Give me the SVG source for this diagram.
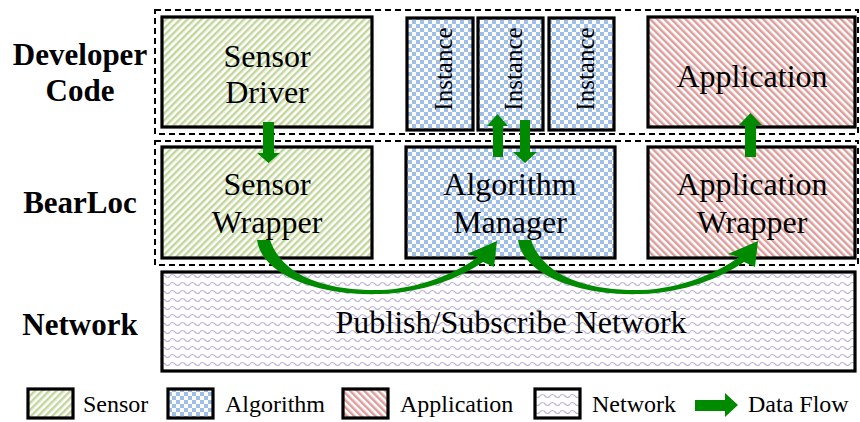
<svg xmlns="http://www.w3.org/2000/svg" xmlns:xlink="http://www.w3.org/1999/xlink" width="860" height="422" viewBox="0 0 860 422">
  <defs>
    <!-- fill patterns for the four component kinds -->
    <pattern id="sensorFill" width="5" height="5" patternUnits="userSpaceOnUse" patternTransform="rotate(45)">
      <rect width="5" height="5" fill="#ffffff"/>
      <rect x="0" y="0" width="2.4" height="5" fill="#c2d69a"/>
    </pattern>
    <pattern id="algoFill" width="8" height="8" patternUnits="userSpaceOnUse">
      <rect width="8" height="8" fill="#ffffff"/>
      <rect x="0" y="0" width="4" height="4" fill="#9fbfe8"/>
      <rect x="4" y="4" width="4" height="4" fill="#9fbfe8"/>
    </pattern>
    <pattern id="appFill" width="5" height="5" patternUnits="userSpaceOnUse" patternTransform="rotate(-45)">
      <rect width="5" height="5" fill="#ffffff"/>
      <rect x="0" y="0" width="2.5" height="5" fill="#dd9e9b"/>
    </pattern>
    <pattern id="netFill" width="10" height="8" patternUnits="userSpaceOnUse">
      <rect width="10" height="8" fill="#ffffff"/>
      <path d="M0,4 Q2.5,1 5,4 T10,4" fill="none" stroke="#bfb4d8" stroke-width="1.2"/>
    </pattern>
    <!-- curved data-flow arrow, reused twice -->
    <path id="curveArrow" d="M257,240 C262,276 320,296 380,294 C422,293 460,278 483,262 L494,267 L497,241 L467,254 L478,257 C458,272 420,289 380,290 C330,291 283,278 270,240 Z"/>
  </defs>
  <style>
    .layer { fill: none; stroke: #000; stroke-width: 2; stroke-dasharray: 6 4; }
    .box { stroke: #000; stroke-width: 3.2; }
    .sensor { fill: url(#sensorFill); }
    .algo { fill: url(#algoFill); }
    .app { fill: url(#appFill); }
    .net { fill: url(#netFill); }
    .lbl { font-family: "Liberation Serif", "Times New Roman", serif; font-size: 32px; fill: #000; text-anchor: middle; }
    .inst { font-family: "Liberation Serif", "Times New Roman", serif; font-size: 25px; fill: #000; text-anchor: middle; }
    .side { font-family: "Liberation Serif", "Times New Roman", serif; font-size: 31px; font-weight: bold; fill: #000; text-anchor: middle; }
    .leg { font-family: "Liberation Serif", "Times New Roman", serif; font-size: 24px; fill: #000; }
    .flow { fill: #008a00; }
  </style>

  <rect width="860" height="422" fill="#ffffff"/>

  <!-- layer labels -->
  <g id="layer-labels">
    <text class="side" x="80" y="65">Developer</text>
    <text class="side" x="80" y="101">Code</text>
    <text class="side" x="80" y="213">BearLoc</text>
    <text class="side" x="80" y="335">Network</text>
  </g>

  <!-- dashed layer frames -->
  <g id="layer-frames">
    <rect class="layer" x="155" y="10" width="703" height="124"/>
    <rect class="layer" x="155" y="141" width="703" height="124"/>
  </g>

  <g id="sensor-driver">
    <rect class="box sensor" x="162" y="17" width="210" height="110"/>
    <text class="lbl" x="267" y="67">Sensor</text>
    <text class="lbl" x="267" y="103">Driver</text>
  </g>

  <g id="instance-1">
    <rect class="box algo" x="407" y="18" width="66" height="112"/>
    <text class="inst" transform="translate(452,69) rotate(-90)">Instance</text>
  </g>
  <g id="instance-2">
    <rect class="box algo" x="478" y="18" width="65" height="112"/>
    <text class="inst" transform="translate(522,69) rotate(-90)">Instance</text>
  </g>
  <g id="instance-3">
    <rect class="box algo" x="549" y="18" width="65" height="112"/>
    <text class="inst" transform="translate(594,69) rotate(-90)">Instance</text>
  </g>

  <g id="application">
    <rect class="box app" x="648" y="17" width="207" height="110"/>
    <text class="lbl" x="752" y="87">Application</text>
  </g>

  <g id="sensor-wrapper">
    <rect class="box sensor" x="162" y="147" width="210" height="111"/>
    <text class="lbl" x="267" y="195">Sensor</text>
    <text class="lbl" x="267" y="233">Wrapper</text>
  </g>

  <g id="algorithm-manager">
    <rect class="box algo" x="406" y="147" width="209" height="111"/>
    <text class="lbl" x="510" y="195">Algorithm</text>
    <text class="lbl" x="510" y="233">Manager</text>
  </g>

  <g id="application-wrapper">
    <rect class="box app" x="648" y="147" width="207" height="111"/>
    <text class="lbl" x="752" y="195">Application</text>
    <text class="lbl" x="752" y="233">Wrapper</text>
  </g>

  <g id="pubsub-network">
    <rect class="box net" x="162" y="272" width="693" height="99"/>
    <text class="lbl" x="511" y="333">Publish/Subscribe Network</text>
  </g>

  <!-- data flow arrows -->
  <g id="connectors" class="flow">
    <!-- driver down to wrapper -->
    <path d="M263,122 H274 V153 H280 L268.5,163 L257,153 H263 Z"/>
    <!-- manager up to instance -->
    <path d="M493,157 H503 V126 H508 L497.5,114 L487,126 H493 Z"/>
    <!-- instance down to manager -->
    <path d="M520,120 H530 V152 H537 L525,163 L513,152 H520 Z"/>
    <!-- wrapper up to application -->
    <path d="M745,157 H756 V125 H762 L750.5,113 L739,125 H745 Z"/>
    <!-- sensor wrapper to manager over the network -->
    <use xlink:href="#curveArrow"/>
    <!-- manager to application wrapper over the network -->
    <use xlink:href="#curveArrow" transform="translate(261,0)"/>
  </g>

  <!-- legend -->
  <g id="legend">
    <rect class="box sensor" x="28" y="389" width="45" height="29"/>
    <text class="leg" x="83" y="412">Sensor</text>
    <rect class="box algo" x="168" y="389" width="45" height="29"/>
    <text class="leg" x="225" y="412">Algorithm</text>
    <rect class="box app" x="343" y="389" width="45" height="29"/>
    <text class="leg" x="400" y="412">Application</text>
    <rect class="box net" x="535" y="389" width="45" height="29"/>
    <text class="leg" x="592" y="412">Network</text>
    <path class="flow" d="M695,400 H725 V393 L738,405 L725,417 V411 H695 Z"/>
    <text class="leg" x="748" y="412">Data Flow</text>
  </g>
</svg>
